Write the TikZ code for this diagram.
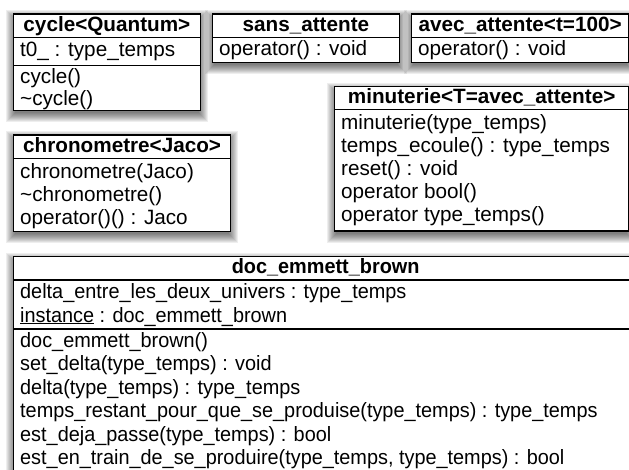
\documentclass[tikz,border=0pt]{standalone}
\usepackage{fontspec}
\setmainfont{Liberation Sans}
\newfontfamily\docfont{Liberation Sans}[FakeStretch=0.96]
\usetikzlibrary{backgrounds,calc}
\tikzset{
  classbox/.style={draw=black, line width=1.3pt, fill=white, rectangle, inner sep=0pt,
    anchor=north west},
  sepline/.style={draw=black, line width=1.3pt},
  shadowlayer/.style={fill=black, fill opacity=0.065, draw=none},
  member/.style={anchor=west, inner sep=0pt, font=\fontsize{20.7}{24}\selectfont,
    text height=15pt, text depth=2pt},
  classtitle/.style={inner sep=0pt, font=\fontsize{20.7}{24}\selectfont\bfseries,
    text height=15pt, text depth=3pt},
  docmember/.style={member, font=\docfont\fontsize{20.7}{24}\selectfont},
  doctitle/.style={classtitle, font=\docfont\fontsize{20.7}{24}\selectfont\bfseries},
}
\begin{document}
\begin{tikzpicture}[x=1pt,y=-1pt]
\useasboundingbox (0,0) rectangle (629,470);
\clip (0,0) rectangle (629,470);

% cycle<Quantum>
\node[classbox, minimum width=186.5pt, minimum height=96.5pt] (cycle) at (13,13.5) {};
\draw[sepline] ([yshift=-24pt]cycle.north west) -- ([yshift=-24pt]cycle.north east);
\draw[sepline] ([yshift=-52pt]cycle.north west) -- ([yshift=-52pt]cycle.north east);
\node[classtitle] (cycleT) at ([yshift=-12pt]cycle.north) {cycle<Quantum>};
\node[member] (cycleA) at ([xshift=7pt,yshift=-37pt]cycle.north west) {t0\_ : type\_temps};
\node[member] (cycleM1) at ([xshift=7pt,yshift=-63.5pt]cycle.north west) {cycle()};
\node[member] (cycleM2) at ([xshift=7pt,yshift=-86pt]cycle.north west) {\textasciitilde cycle()};

% sans_attente
\node[classbox, minimum width=186.5pt, minimum height=48.5pt] (sans) at (212,13.5) {};
\draw[sepline] ([yshift=-24pt]sans.north west) -- ([yshift=-24pt]sans.north east);
\node[classtitle] (sansT) at ([yshift=-12pt]sans.north) {sans\_attente};
\node[member] (sansM) at ([xshift=7pt,yshift=-36pt]sans.north west) {operator() : void};

% avec_attente<t=100>
\node[classbox, minimum width=217pt, minimum height=48.5pt] (avec) at (411,13.5) {};
\draw[sepline] ([yshift=-24pt]avec.north west) -- ([yshift=-24pt]avec.north east);
\node[classtitle] (avecT) at ([yshift=-12pt]avec.north) {avec\_attente<t=100>};
\node[member] (avecM) at ([xshift=7pt,yshift=-36pt]avec.north west) {operator() : void};

% chronometre<Jaco>
\node[classbox, minimum width=217pt, minimum height=96.5pt] (chrono) at (13,134.5) {};
\draw[sepline] ([yshift=-24pt]chrono.north west) -- ([yshift=-24pt]chrono.north east);
\node[classtitle] (chronoT) at ([yshift=-12pt]chrono.north) {chronometre<Jaco>};
\node[member] (chronoM1) at ([xshift=7pt,yshift=-37.5pt]chrono.north west) {chronometre(Jaco)};
\node[member] (chronoM2) at ([xshift=7pt,yshift=-60.5pt]chrono.north west) {\textasciitilde chronometre()};
\node[member] (chronoM3) at ([xshift=7pt,yshift=-83.5pt]chrono.north west) {operator()() : Jaco};

% minuterie<T=avec_attente>
\node[classbox, minimum width=294pt, minimum height=144.5pt] (minu) at (334,86) {};
\draw[sepline] ([yshift=-23.5pt]minu.north west) -- ([yshift=-23.5pt]minu.north east);
\node[classtitle] (minuT) at ([yshift=-12pt]minu.north) {minuterie<T=avec\_attente>};
\node[member] (minuM1) at ([xshift=7pt,yshift=-37pt]minu.north west) {minuterie(type\_temps)};
\node[member] (minuM2) at ([xshift=7pt,yshift=-60pt]minu.north west) {temps\_ecoule() : type\_temps};
\node[member] (minuM3) at ([xshift=7pt,yshift=-83pt]minu.north west) {reset() : void};
\node[member] (minuM4) at ([xshift=7pt,yshift=-106pt]minu.north west) {operator bool()};
\node[member] (minuM5) at ([xshift=7pt,yshift=-129pt]minu.north west) {operator type\_temps()};

% doc_emmett_brown
\node[classbox, minimum width=624pt, minimum height=230pt] (doc) at (13,256) {};
\draw[sepline] ([yshift=-24pt]doc.north west) -- ([yshift=-24pt]doc.north east);
\draw[sepline] ([yshift=-73pt]doc.north west) -- ([yshift=-73pt]doc.north east);
\node[doctitle] (docT) at ([yshift=-12pt]doc.north) {doc\_emmett\_brown};
\node[docmember] (docA1) at ([xshift=7pt,yshift=-36pt]doc.north west) {delta\_entre\_les\_deux\_univers : type\_temps};
\node[docmember] (docA2) at ([xshift=7pt,yshift=-59.5pt]doc.north west) {\underline{instance} : doc\_emmett\_brown};
\node[docmember] (docM1) at ([xshift=7pt,yshift=-84.5pt]doc.north west) {doc\_emmett\_brown()};
\node[docmember] (docM2) at ([xshift=7pt,yshift=-108pt]doc.north west) {set\_delta(type\_temps) : void};
\node[docmember] (docM3) at ([xshift=7pt,yshift=-131.5pt]doc.north west) {delta(type\_temps) : type\_temps};
\node[docmember] (docM4) at ([xshift=7pt,yshift=-155pt]doc.north west) {temps\_restant\_pour\_que\_se\_produise(type\_temps) : type\_temps};
\node[docmember] (docM5) at ([xshift=7pt,yshift=-178.5pt]doc.north west) {est\_deja\_passe(type\_temps) : bool};
\node[docmember] (docM6) at ([xshift=7pt,yshift=-202pt]doc.north west) {est\_en\_train\_de\_se\_produire(type\_temps, type\_temps) : bool};

% soft drop shadows behind every class box
\begin{pgfonlayer}{background}
\foreach \n in {cycle,sans,avec,chrono,minu,doc}{
  \foreach \e in {0,...,9}{
    \path[shadowlayer] ($(\n.south west)+({2-\e},{2+\e})$) rectangle ($(\n.north east)+({\e-2},{6-\e})$);
  }
}
\end{pgfonlayer}
\end{tikzpicture}
\end{document}
